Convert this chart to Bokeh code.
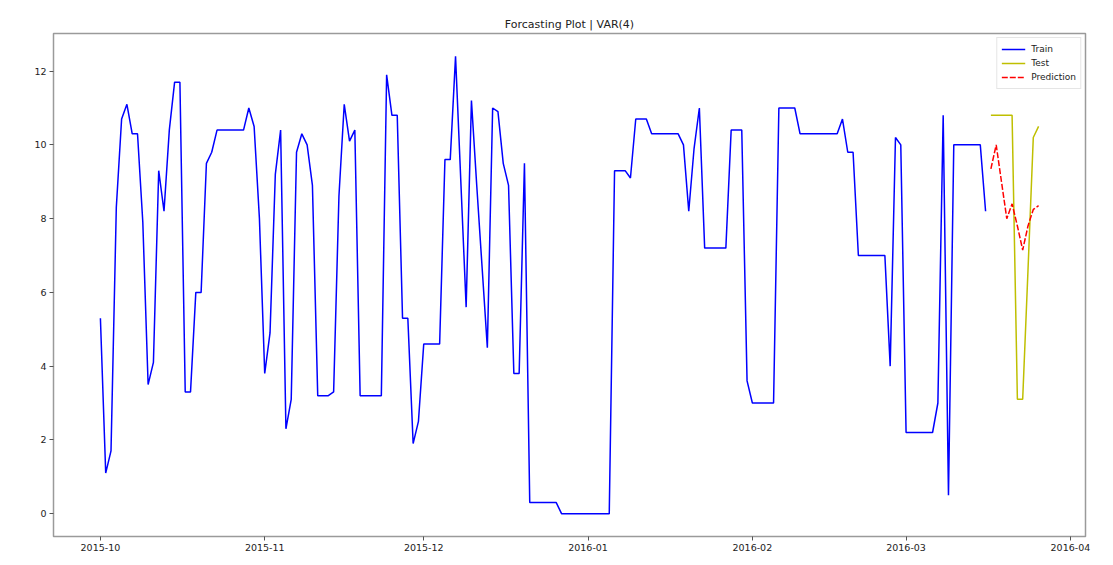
import pandas as pd
from bokeh.plotting import figure
from bokeh.models import Range1d, FixedTicker, DatetimeTickFormatter, Legend, LegendItem
from bokeh.embed import file_html
from bokeh.resources import INLINE

# ---- data ----
train_start = "2015-10-01"
train_values = [
    5.3, 1.1, 1.7, 8.3, 10.7, 11.1, 10.3, 10.3, 7.9, 3.5,
    4.1, 9.3, 8.2, 10.4, 11.7, 11.7, 3.3, 3.3, 6.0, 6.0,
    9.5, 9.8, 10.4, 10.4, 10.4, 10.4, 10.4, 10.4, 11.0, 10.5,
    8.0, 3.8, 4.9, 9.2, 10.4, 2.3, 3.1, 9.8, 10.3, 10.0,
    8.9, 3.2, 3.2, 3.2, 3.3, 8.6, 11.1, 10.1, 10.4, 3.2,
    3.2, 3.2, 3.2, 3.2, 11.9, 10.8, 10.8, 5.3, 5.3, 1.9,
    2.5, 4.6, 4.6, 4.6, 4.6, 9.6, 9.6, 12.4, 9.0, 5.6,
    11.2, 8.9, 6.7, 4.5, 11.0, 10.9, 9.5, 8.9, 3.8, 3.8,
    9.5, 0.3, 0.3, 0.3, 0.3, 0.3, 0.3, 0.0, 0.0, 0.0,
    0.0, 0.0, 0.0, 0.0, 0.0, 0.0, 0.0, 9.3, 9.3, 9.3,
    9.1, 10.7, 10.7, 10.7, 10.3, 10.3, 10.3, 10.3, 10.3, 10.3,
    10.0, 8.2, 9.9, 11.0, 7.2, 7.2, 7.2, 7.2, 7.2, 10.4,
    10.4, 10.4, 3.6, 3.0, 3.0, 3.0, 3.0, 3.0, 11.0, 11.0,
    11.0, 11.0, 10.3, 10.3, 10.3, 10.3, 10.3, 10.3, 10.3, 10.3,
    10.7, 9.8, 9.8, 7.0, 7.0, 7.0, 7.0, 7.0, 7.0, 4.0,
    10.2, 10.0, 2.2, 2.2, 2.2, 2.2, 2.2, 2.2, 3.0, 10.8,
    0.5, 10.0, 10.0, 10.0, 10.0, 10.0, 10.0, 8.2,
]
test_start = "2016-03-17"
test_values = [10.8, 10.8, 10.8, 10.8, 10.8, 3.1, 3.1, 6.6, 10.2, 10.5]
pred_values = [9.35, 10.0, 9.0, 8.0, 8.4, 7.8, 7.15, 7.8, 8.25, 8.35]

month_ticks = ["2015-10-01", "2015-11-01", "2015-12-01", "2016-01-01",
               "2016-02-01", "2016-03-01", "2016-04-01"]
y_ticks = [0, 2, 4, 6, 8, 10, 12]
title_text = "Forcasting Plot | VAR(4)"

train_dates = pd.date_range(train_start, periods=len(train_values), freq="D")
test_dates = pd.date_range(test_start, periods=len(test_values), freq="D")

# matplotlib-like 5% margins
x0, x1 = train_dates[0], test_dates[-1]
xpad = (x1 - x0) * 0.05
all_vals = train_values + test_values + pred_values
ymin, ymax = min(all_vals), max(all_vals)
ypad = (ymax - ymin) * 0.05

p = figure(width=1100, height=557, x_axis_type="datetime",
           output_backend="svg", toolbar_location=None,
           x_range=Range1d(x0 - xpad, x1 + xpad),
           y_range=Range1d(ymin - ypad, ymax + ypad),
           min_border_left=53, min_border_right=15,
           min_border_top=33, min_border_bottom=21)

p.title.text = title_text
p.title.align = "center"
p.title.text_font = "DejaVu Sans"
p.title.text_font_size = "11px"
p.title.text_font_style = "normal"
p.title.text_color = "#222222"
p.title.standoff = 6

r_train = p.line(train_dates, train_values, line_color="#0000ff", line_width=1.5)
r_test = p.line(test_dates, test_values, line_color="#bfbf00", line_width=1.5)
r_pred = p.line(test_dates, pred_values, line_color="#ff0000", line_width=1.5,
                line_dash="6 2")

tick_ms = [pd.Timestamp(t).value / 1e6 for t in month_ticks]
p.xaxis.ticker = FixedTicker(ticks=tick_ms)
fmt = "%Y-%m"
p.xaxis.formatter = DatetimeTickFormatter(
    milliseconds=fmt, seconds=fmt, minsec=fmt, minutes=fmt, hourmin=fmt,
    hours=fmt, days=fmt, months=fmt, years=fmt)
p.yaxis.ticker = FixedTicker(ticks=y_ticks)

for ax in (p.xaxis, p.yaxis):
    ax.axis_line_color = None
    ax.major_tick_line_color = "#555555"
    ax.major_tick_out = 4
    ax.major_tick_in = 0
    ax.minor_tick_line_color = None
    ax.major_label_text_font = "DejaVu Sans"
    ax.major_label_text_font_size = "9.5px"
    ax.major_label_text_color = "#222222"
    ax.major_label_standoff = 3

p.xgrid.visible = False
p.ygrid.visible = False
p.outline_line_color = "#9a9a9a"
p.outline_line_width = 1.5
p.background_fill_color = "white"
p.border_fill_color = "white"

legend = Legend(items=[
    LegendItem(label="Train", renderers=[r_train]),
    LegendItem(label="Test", renderers=[r_test]),
    LegendItem(label="Prediction", renderers=[r_pred]),
], location="top_right")
legend.label_text_font = "DejaVu Sans"
legend.label_text_font_size = "9px"
legend.label_text_color = "#222222"
legend.glyph_width = 24
legend.glyph_height = 14
legend.label_height = 14
legend.label_standoff = 6
legend.spacing = 0
legend.padding = 4
legend.margin = 4
legend.border_line_color = "#cccccc"
legend.background_fill_alpha = 0.8
p.add_layout(legend)

open("out.html", "w").write(file_html(p, INLINE))
